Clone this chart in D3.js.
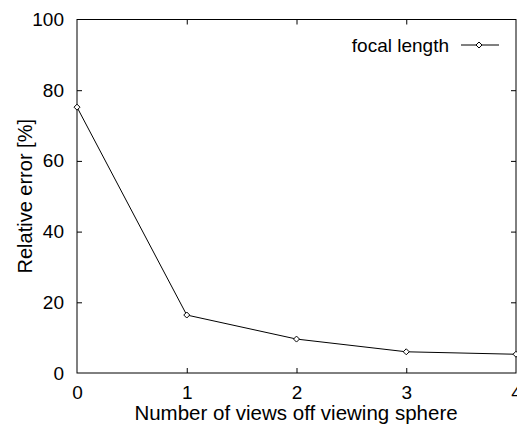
<!DOCTYPE html>
<html><head><meta charset="utf-8">
<script src="https://cdn.jsdelivr.net/npm/d3@7"></script>
<style>body{margin:0;background:#fff}svg{display:block}text{font-family:"Liberation Sans",Arial,sans-serif;fill:#000}</style>
</head><body>
<script>
const views = [0, 1, 2, 3, 4];
const focalError = [75.2, 16.4, 9.6, 6.0, 5.3];
const xTicks = [0, 1, 2, 3, 4];
const yTicks = [0, 20, 40, 60, 80, 100];
const seriesName = "focal length";
const xTitle = "Number of views off viewing sphere";
const yTitle = "Relative error [%]";

const W = 517, H = 426;
const m = {l: 77, r: 1, t: 19.5, b: 53};
const svg = d3.select("body").append("svg").attr("width", W).attr("height", H);
const x = d3.scaleLinear().domain([0, 4]).range([m.l, W - m.r]);
const y = d3.scaleLinear().domain([0, 100]).range([H - m.b, m.t]);
const fs = 19, tl = 5;

const g = svg.append("g");
// frame
g.append("rect").attr("x", x(0)).attr("y", y(100)).attr("width", x(4) - x(0)).attr("height", y(0) - y(100))
  .attr("fill", "none").attr("stroke", "#000").attr("stroke-width", 1);

// y ticks
const yAxL = g.append("g").attr("transform", `translate(${x(0)},0)`)
  .call(d3.axisLeft(y).tickValues(yTicks).tickSize(-tl).tickPadding(13).tickFormat(d3.format("d")));
const yAxR = g.append("g").attr("transform", `translate(${x(4)},0)`)
  .call(d3.axisRight(y).tickValues(yTicks.filter(d => d > 0 && d < 100)).tickSize(-tl).tickFormat(""));
const xAxB = g.append("g").attr("transform", `translate(0,${y(0)})`)
  .call(d3.axisBottom(x).tickValues(xTicks).tickSize(-tl).tickPadding(13).tickFormat(d3.format("d")));
const xAxT = g.append("g").attr("transform", `translate(0,${y(100)})`)
  .call(d3.axisTop(x).tickValues(xTicks.filter(d => d > 0 && d < 4)).tickSize(-tl).tickFormat(""));
[yAxL, yAxR, xAxB, xAxT].forEach(a => {
  a.select(".domain").remove();
  a.selectAll("line").attr("stroke", "#000");
  a.selectAll("text").attr("font-size", fs).attr("font-family", "Liberation Sans, Arial, sans-serif").attr("fill", "#000");
});
// remove edge ticks coinciding with frame
yAxL.selectAll(".tick").filter(d => d === 0 || d === 100).select("line").remove();
xAxB.selectAll(".tick").filter(d => d === 0 || d === 4).select("line").remove();

// line
const line = d3.line().x((d, i) => x(views[i])).y(d => y(d));
g.append("path").datum(focalError).attr("d", line).attr("fill", "none").attr("stroke", "#000").attr("stroke-width", 1);
const diamond = (cx, cy, r) => `M${cx},${cy - r}L${cx + r},${cy}L${cx},${cy + r}L${cx - r},${cy}Z`;
g.selectAll(".pt").data(focalError).enter().append("path").attr("class", "pt")
  .attr("d", (d, i) => diamond(x(views[i]), y(d), 3))
  .attr("fill", "#fff").attr("stroke", "#000").attr("stroke-width", 1);

// legend
const ly = 45;
g.append("text").attr("x", 449).attr("y", ly).attr("dy", "0.35em").attr("text-anchor", "end").attr("font-size", fs).text(seriesName);
g.append("line").attr("x1", 461).attr("x2", 499).attr("y1", ly).attr("y2", ly).attr("stroke", "#000");
g.append("path").attr("d", diamond(479, ly, 3)).attr("fill", "#fff").attr("stroke", "#000");

// titles
g.append("text").attr("x", 296).attr("y", 420).attr("text-anchor", "middle").attr("font-size", 20.5).text(xTitle);
g.append("text").attr("transform", `translate(32,${(y(0) + y(100)) / 2}) rotate(-90)`).attr("text-anchor", "middle").attr("font-size", 20).text(yTitle);
</script>
</body></html>
